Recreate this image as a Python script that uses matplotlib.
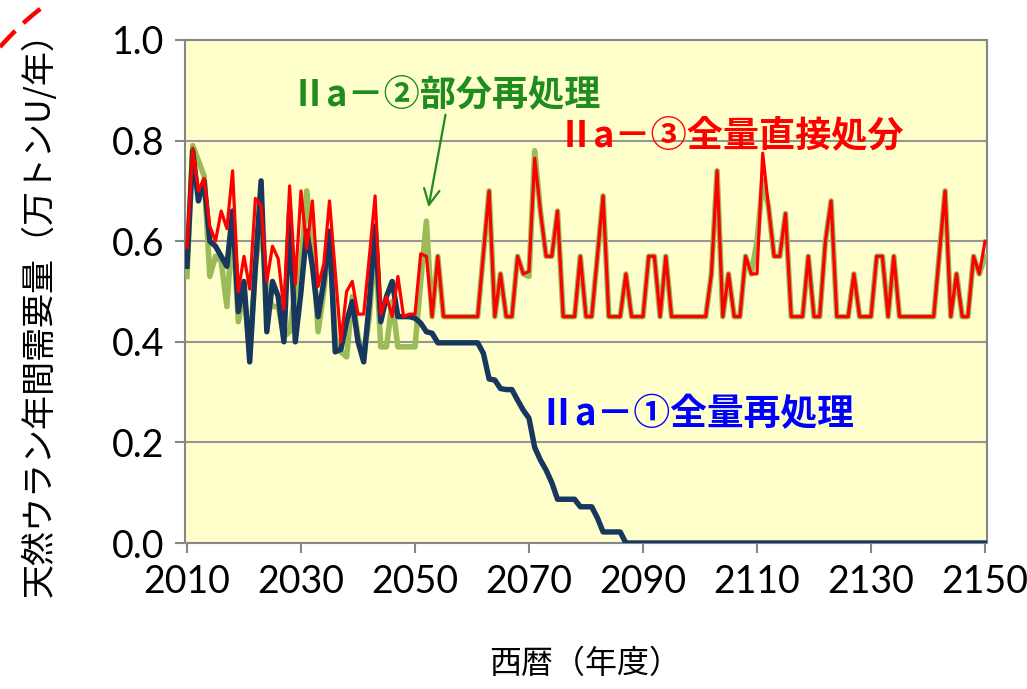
import matplotlib
matplotlib.use("Agg")
import matplotlib.pyplot as plt
from matplotlib.lines import Line2D
import numpy as np

plt.rcParams['font.family'] = ['Noto Sans CJK JP', 'DejaVu Sans']

years = list(range(2010, 2151))

# Ⅱa－① 全量再処理 (navy)
case1 = [0.55, 0.78, 0.68, 0.72, 0.60, 0.59, 0.57, 0.55, 0.66, 0.46,
         0.52, 0.36, 0.55, 0.72, 0.42, 0.52, 0.49, 0.40, 0.66, 0.40,
         0.50, 0.62, 0.55, 0.45, 0.52, 0.62, 0.38, 0.385, 0.44, 0.48,
         0.40, 0.36, 0.48, 0.63, 0.44, 0.49, 0.52, 0.45, 0.45, 0.45,
         0.447, 0.437, 0.42, 0.417, 0.398, 0.398, 0.398, 0.398, 0.398, 0.398,
         0.398, 0.398, 0.377, 0.326, 0.324, 0.307, 0.305, 0.305, 0.284, 0.264,
         0.248, 0.19, 0.165, 0.145, 0.12, 0.087, 0.087, 0.087, 0.087, 0.072,
         0.072, 0.072, 0.05, 0.022, 0.022, 0.022, 0.022, 0.0] + [0.0] * 63

# Ⅱa－③ 全量直接処分 (red)
case3 = [0.588, 0.785, 0.70, 0.725, 0.63, 0.60, 0.66, 0.625, 0.74, 0.50,
         0.57, 0.505, 0.685, 0.67, 0.52, 0.59, 0.565, 0.465, 0.71, 0.515,
         0.70, 0.585, 0.68, 0.51, 0.555, 0.68, 0.54, 0.40, 0.50, 0.52,
         0.455, 0.455, 0.57, 0.69, 0.455, 0.49, 0.45, 0.53, 0.45, 0.455,
         0.455, 0.575, 0.57, 0.45, 0.57, 0.45, 0.45, 0.45, 0.45, 0.45,
         0.45, 0.45, 0.575, 0.70, 0.45, 0.535, 0.45, 0.45, 0.57, 0.535,
         0.54, 0.765, 0.66, 0.57, 0.57, 0.66, 0.45, 0.45, 0.45, 0.57,
         0.45, 0.45, 0.57, 0.69, 0.45, 0.45, 0.45, 0.535, 0.45, 0.45,
         0.45, 0.57, 0.57, 0.45, 0.57, 0.45, 0.45, 0.45, 0.45, 0.45,
         0.45, 0.45, 0.535, 0.74, 0.45, 0.535, 0.45, 0.45, 0.57, 0.535,
         0.535, 0.775, 0.67, 0.57, 0.57, 0.655, 0.45, 0.45, 0.45, 0.57,
         0.45, 0.45, 0.60, 0.68, 0.45, 0.45, 0.45, 0.535, 0.45, 0.45,
         0.45, 0.57, 0.57, 0.45, 0.57, 0.45, 0.45, 0.45, 0.45, 0.45,
         0.45, 0.45, 0.575, 0.70, 0.45, 0.535, 0.45, 0.45, 0.57, 0.535,
         0.60]

# Ⅱa－② 部分再処理 (green)
case2_early = [0.53, 0.79, 0.76, 0.73, 0.53, 0.57, 0.56, 0.47, 0.635, 0.44,
               0.50, 0.38, 0.55, 0.64, 0.50, 0.47, 0.47, 0.41, 0.42, 0.50,
               0.55, 0.70, 0.60, 0.42, 0.50, 0.61, 0.41, 0.38, 0.37, 0.49,
               0.41, 0.37, 0.45, 0.60, 0.39, 0.39, 0.48, 0.39, 0.39, 0.39,
               0.39, 0.52, 0.64]
case2 = case2_early + case3[len(case2_early):]
case2[2070 - 2010] = 0.53
case2[2071 - 2010] = 0.78
case2[2110 - 2010] = 0.60
case2[2111 - 2010] = 0.72
case2[2150 - 2010] = 0.57

label1 = "Ⅱa－①全量再処理"
label2 = "Ⅱa－②部分再処理"
label3 = "Ⅱa－③全量直接処分"
xticks = list(range(2010, 2151, 20))
yticks = [0.0, 0.2, 0.4, 0.6, 0.8, 1.0]

W, H = 1027, 689
fig = plt.figure(figsize=(W / 100, H / 100), dpi=100)

def fx(px):
    return px / W

def fy(py):
    return 1 - py / H

L, R, T, B = 185, 987, 40, 543
ax = fig.add_axes([fx(L), fy(B), fx(R) - fx(L), fy(T) - fy(B)])
ax.set_facecolor('#FFFFCC')

ax.plot(years, case2, color='#9BBB59', lw=4.0, solid_joinstyle='round', zorder=3)
ax.plot(years, case1, color='#17375E', lw=3.9, solid_joinstyle='round', zorder=4)
ax.plot(years, case3, color='#FF0000', lw=2.3, solid_joinstyle='round', zorder=5)

ppy = 5.7
ax.set_xlim(2010 - (187 - L) / ppy, 2150 + (R - 985) / ppy)
ax.set_ylim(0, 1.0)
ax.set_xticks(xticks)
ax.set_yticks(yticks)
ax.set_yticklabels([f"{v:.1f}" for v in yticks])
ax.yaxis.grid(True, color='#969696', lw=1.5, zorder=1)
ax.set_axisbelow(True)

for s in ax.spines.values():
    s.set_color('#868686')
    s.set_linewidth(1.5)
ax.tick_params(axis='both', direction='out', length=7, width=1.5, color='#868686',
               labelsize=27, labelcolor='black', pad=8)
for lab in ax.get_xticklabels() + ax.get_yticklabels():
    lab.set_fontfamily(['Lato', 'DejaVu Sans'])

fig.text(fx(40), fy(306), "天然ウラン年間需要量（万トンU/年）", rotation=90,
         ha='center', va='center', fontsize=24.5)
fig.text(fx(585), fy(664), "西暦（年度）", ha='center', va='center', fontsize=23)

fig.text(fx(291), fy(95), label2, ha='left', va='center', fontsize=26,
         fontweight='bold', color='#1E8C1E')
fig.text(fx(558), fy(136), label3, ha='left', va='center', fontsize=26,
         fontweight='bold', color='#FF0000')
fig.text(fx(538), fy(415), label1, ha='left', va='center', fontsize=26.5,
         fontweight='bold', color='#0000FF')

ax.annotate('', xy=(fx(428), fy(210)), xycoords='figure fraction',
            xytext=(fx(446), fy(112)), textcoords='figure fraction',
            arrowprops=dict(arrowstyle='->', color='#1E8C1E', lw=1.6,
                            mutation_scale=28))

t = np.linspace(0, 1, 30)
arc_x = 0 + 47 * t
arc_y = 47 - 43 * t - 10 * t * (1 - t)
fig.add_artist(Line2D(fx(arc_x), fy(arc_y), transform=fig.transFigure,
                      color='#FF0000', lw=3.2, linestyle=(0, (5, 2.5))))

fig.savefig('out.png', dpi=100)
